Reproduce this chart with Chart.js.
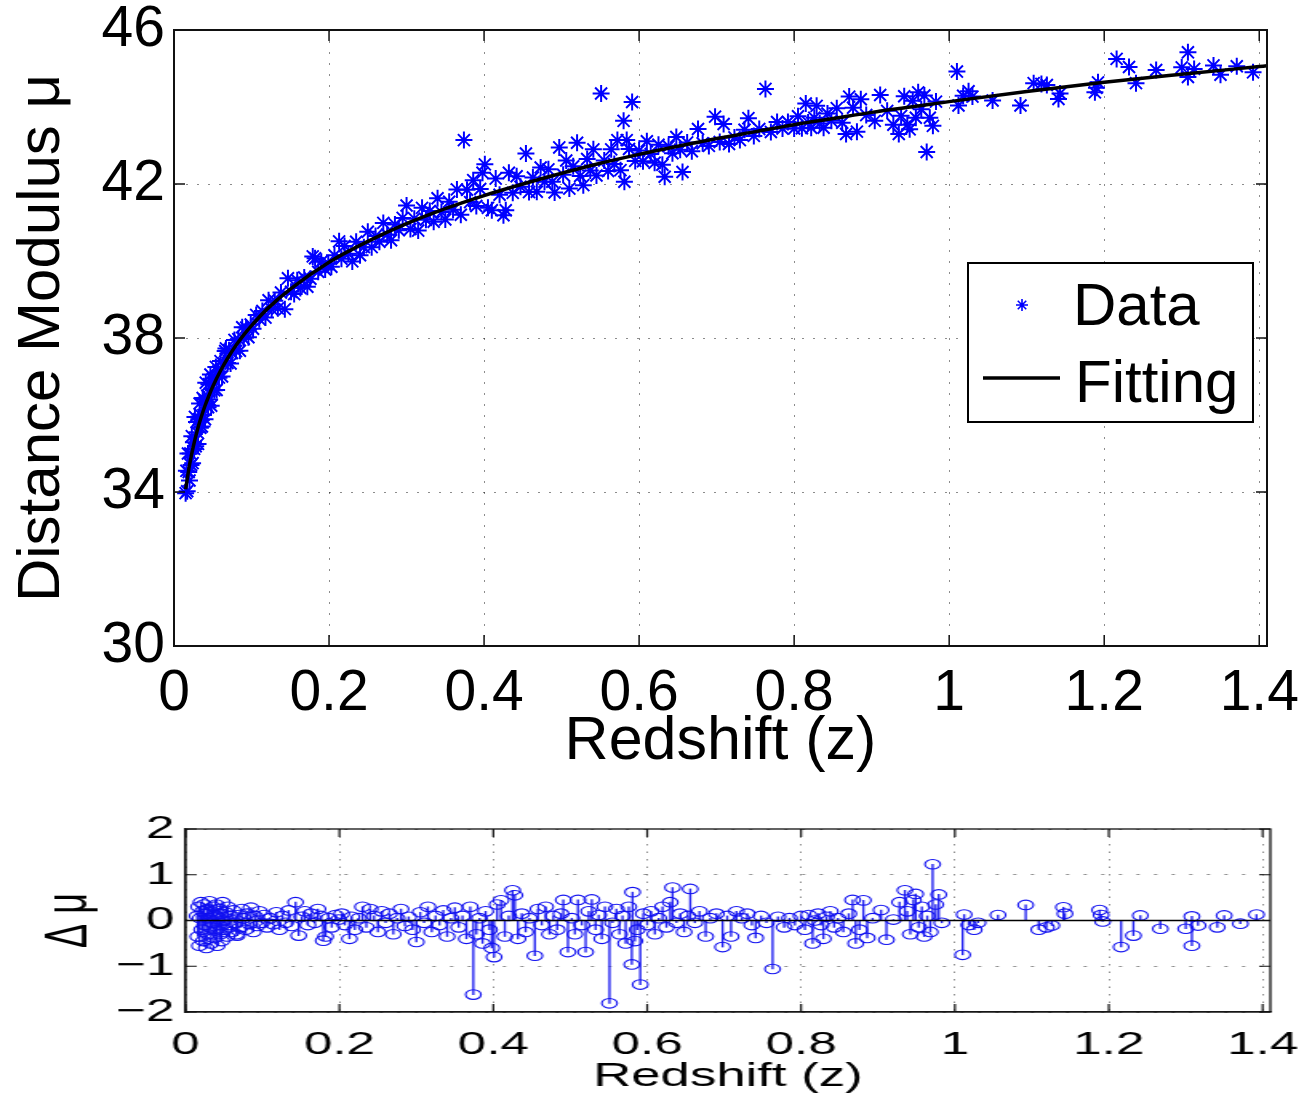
<!DOCTYPE html>
<html>
<head>
<meta charset="utf-8">
<script src="https://cdn.jsdelivr.net/npm/chart.js@4.4.1/dist/chart.umd.min.js"></script>
<style>
  html, body { margin: 0; padding: 0; background: #fff; }
  body { width: 1310px; height: 1101px; position: relative; overflow: hidden; }
  #top { position: absolute; left: 0; top: 0; width: 1310px; height: 790px; }
  /* the residual panel of the original is stretched sideways */
  #bottom { position: absolute; left: 0; top: 800px; width: 819px; height: 301px;
            transform: scaleX(1.6); transform-origin: 0 0; }
</style>
</head>
<body>
<div id="top"><canvas id="mu"></canvas></div>
<div id="bottom"><canvas id="res"></canvas></div>
<script>
// redshift of each supernova
let Z = [
  0.015,0.016,0.017,0.018,0.019,0.020,0.021,0.022,0.023,0.024,
  0.025,0.026,0.027,0.028,0.029,0.030,0.031,0.032,0.033,0.034,
  0.035,0.036,0.037,0.038,0.039,0.040,0.041,0.042,0.043,0.044,
  0.045,0.046,0.047,0.048,0.049,0.050,0.052,0.054,0.055,0.057,
  0.058,0.060,0.062,0.064,0.066,0.067,0.069,0.071,0.073,0.075,
  0.078,0.080,0.083,0.085,0.088,0.090,0.093,0.096,0.099,
  0.102,0.106,0.110,0.114,0.118,0.122,0.126,0.130,0.134,0.138,
  0.143,0.147,0.151,0.155,0.159,0.163,0.168,0.172,0.176,0.179,
  0.182,0.186,0.190,0.195,0.199,
  0.203,0.207,0.213,0.216,0.220,0.225,0.230,0.235,0.240,0.245,
  0.250,0.255,0.260,0.265,0.270,0.275,0.280,0.285,0.290,0.295,
  0.300,0.305,0.310,0.315,0.320,0.325,0.330,0.335,0.340,0.345,
  0.350,0.355,0.360,0.365,0.370,0.374,0.378,0.382,0.386,0.390,
  0.395,0.398,0.401,0.405,0.410,0.415,0.420,0.425,0.428,0.432,
  0.437,0.442,0.447,0.454,0.458,0.463,0.468,0.473,0.478,0.483,
  0.488,0.491,0.497,
  0.502,0.506,0.510,0.515,0.520,0.524,0.528,0.533,0.537,0.541,
  0.545,0.551,0.555,0.560,0.564,0.568,0.572,0.576,0.580,0.581,
  0.584,0.587,0.591,0.595,0.600,0.605,0.610,0.615,0.620,0.625,
  0.630,0.633,0.638,0.643,0.648,
  0.653,0.656,0.662,0.668,0.676,0.682,0.690,0.698,0.704,0.709,
  0.716,0.723,0.730,0.736,0.741,0.748,0.755,0.763,0.770,0.778,
  0.785,0.792,
  0.800,0.805,0.810,0.815,0.818,0.822,0.826,0.829,0.833,0.838,
  0.843,0.848,0.855,0.862,0.867,0.871,0.876,0.881,0.886,0.893,
  0.904,0.911,0.920,0.928,0.935,0.938,0.942,0.946,0.949,
  0.953,0.957,0.960,0.964,0.968,0.971,0.975,0.979,0.983,1.010,
  1.012,1.018,1.025,1.030,
  1.056,1.092,1.109,1.119,1.126,1.141,1.143,1.188,1.190,1.192,
  1.216,1.232,1.241,1.267,1.300,1.308,1.308,1.316,1.341,1.350,
  1.371,1.392
];

// distance modulus (top panel)
let MU = [
  33.97,34.55,34.02,35.00,34.52,34.30,35.00,34.70,35.45,34.75,
  35.29,35.12,35.95,35.19,35.82,35.55,35.25,35.89,36.30,35.67,
  35.99,35.70,36.44,36.00,36.40,35.89,36.84,36.26,36.50,36.20,
  36.80,36.40,37.05,36.24,36.69,36.94,36.64,37.25,36.65,37.13,
  36.97,37.40,37.00,37.34,37.66,37.73,37.35,37.68,37.34,37.61,
  37.95,37.66,37.97,37.67,38.28,37.98,38.27,38.02,38.35,
  38.24,38.60,38.49,38.70,38.53,38.98,38.75,38.97,38.77,39.18,
  38.75,39.55,39.20,39.14,39.50,39.30,39.57,39.33,39.54,40.12,
  40.07,39.72,39.98,39.78,39.94,
  39.85,40.15,40.51,40.06,40.39,40.19,39.99,40.50,40.15,40.36,
  40.76,40.36,40.65,40.50,40.99,40.69,40.54,40.95,40.80,41.12,
  41.44,40.83,41.10,40.79,41.38,41.07,41.30,41.02,41.63,41.27,
  41.08,41.54,41.33,41.86,41.20,43.14,41.85,41.53,42.10,41.43,
  41.87,42.29,42.51,41.38,41.32,42.14,41.72,41.19,41.32,42.29,
  41.77,42.20,41.93,42.79,41.79,42.17,41.80,42.43,42.06,42.38,
  42.06,41.78,42.95,
  42.24,42.61,41.88,42.46,43.07,42.21,41.97,42.65,42.35,42.90,
  42.22,44.35,42.61,42.34,42.90,42.52,43.14,42.36,43.64,42.06,
  43.14,42.91,44.13,42.60,42.87,42.59,43.11,42.78,42.55,43.02,
  42.50,42.19,42.98,42.80,43.22,
  42.89,42.31,43.08,42.85,43.43,43.06,42.99,43.75,43.09,43.56,
  43.04,43.21,43.14,43.41,43.71,43.25,43.43,44.47,43.35,43.61,
  43.44,43.61,
  43.44,43.76,43.45,44.09,43.60,43.46,43.72,44.03,43.57,43.46,
  43.83,43.64,43.97,43.59,43.30,44.27,43.98,43.36,44.20,43.79,
  43.64,44.31,43.90,43.54,43.30,43.77,44.28,43.54,43.42,
  44.16,43.72,44.38,43.94,44.30,42.83,43.72,43.51,44.14,44.92,
  44.04,44.29,44.41,44.27,
  44.17,44.04,44.62,44.60,44.57,44.21,44.35,44.38,44.50,44.64,
  45.25,45.04,44.62,44.96,45.03,44.78,45.42,44.99,45.08,44.84,
  45.06,44.90
];

// residuals, fit minus data (bottom panel)
let DMU = [
  0.10,-0.35,0.30,-0.55,0.05,0.40,-0.20,0.20,-0.45,0.35,
  -0.10,0.15,-0.60,0.25,-0.30,0.05,0.42,-0.15,-0.50,0.20,
  -0.05,0.30,-0.38,0.12,-0.22,0.35,-0.55,0.08,-0.10,0.25,
  -0.30,0.15,-0.45,0.40,0.00,-0.20,0.18,-0.35,0.30,-0.10,
  0.10,-0.25,0.22,-0.05,-0.30,-0.33,0.12,-0.15,0.25,0.05,
  -0.20,0.15,-0.08,0.28,-0.25,0.10,-0.12,0.20,-0.05,
  0.12,-0.15,0.05,-0.08,0.18,-0.20,0.10,-0.05,0.22,-0.12,
  0.40,-0.33,0.08,0.20,-0.10,0.15,-0.05,0.25,0.10,-0.44,
  -0.35,0.05,-0.15,0.12,0.02,
  0.15,-0.10,-0.40,0.08,-0.20,0.05,0.30,-0.15,0.25,0.10,
  -0.25,0.20,-0.05,0.15,-0.30,0.05,0.25,-0.12,0.08,-0.20,
  -0.47,0.18,-0.05,0.30,-0.25,0.10,-0.10,0.22,-0.35,0.05,
  0.28,-0.15,0.10,-0.40,0.30,-1.62,-0.30,0.05,-0.50,0.20,
  -0.20,-0.60,-0.80,0.35,0.44,-0.35,0.10,0.66,0.55,-0.40,
  0.15,-0.25,0.05,-0.77,0.25,-0.10,0.30,-0.30,0.10,-0.20,
  0.15,0.45,-0.69,
  0.05,-0.30,0.45,-0.10,-0.69,0.20,0.46,-0.20,0.12,-0.40,
  0.30,-1.81,-0.05,0.25,-0.30,0.10,-0.50,0.30,-0.96,0.62,
  -0.45,-0.20,-1.40,0.15,-0.10,0.20,-0.30,0.05,0.30,-0.15,
  0.40,0.72,-0.05,0.15,-0.25,
  0.10,0.69,-0.05,0.20,-0.35,0.05,0.15,-0.58,0.10,-0.35,
  0.20,0.05,0.15,-0.10,-0.38,0.10,-0.05,-1.06,0.08,-0.15,
  0.05,-0.10,
  0.10,-0.20,0.12,-0.50,0.00,0.15,-0.10,-0.40,0.08,0.20,
  -0.15,0.05,-0.25,0.15,0.45,-0.50,-0.20,0.44,-0.38,0.05,
  0.23,-0.42,0.02,0.40,0.66,0.20,-0.30,0.45,0.58,
  -0.15,0.30,-0.35,0.10,-0.25,1.23,0.35,0.57,-0.05,-0.75,
  0.13,-0.10,-0.20,-0.05,
  0.12,0.34,-0.20,-0.15,-0.11,0.29,0.15,0.23,0.12,-0.02,
  -0.58,-0.33,0.11,-0.18,-0.18,0.09,-0.55,-0.11,-0.15,0.11,
  -0.07,0.13
];

// fitted curve
let FIT_Z  = [0.015,0.02,0.025,0.03,0.035,0.04,0.045,0.05,0.06,0.07,0.08,0.09,0.1,0.12,0.15,
              0.2,0.25,0.3,0.35,0.4,0.45,0.5,0.55,0.6,0.65,0.7,0.75,0.8,0.85,0.9,0.95,
              1.0,1.1,1.2,1.3,1.4,1.41];
let FIT_MU = [34.07,34.70,35.19,35.60,35.94,36.24,36.50,36.74,37.15,37.50,37.81,38.08,38.32,38.75,39.27,
              39.97,40.51,40.97,41.36,41.70,42.00,42.28,42.54,42.77,42.98,43.18,43.36,43.54,43.70,43.86,44.00,
              44.14,44.40,44.64,44.85,45.05,45.07];

let X_TICKS = [0, 0.2, 0.4, 0.6, 0.8, 1, 1.2, 1.4];
let MU_TICKS = [30, 34, 38, 42, 46];
let DMU_TICKS = [-2, -1, 0, 1, 2];
let X_MIN = 0, X_MAX = 1.41;

const BLUE = '#0000ff';
const GRID = 'rgba(0,0,0,0.45)';
Chart.defaults.font.family = '"Liberation Sans", Arial, Helvetica, sans-serif';
Chart.defaults.color = '#000';

// box round the axes with matlab style inward ticks
const frame = {
  id: 'frame',
  afterDatasetsDraw(chart, args, o) {
    const {ctx, chartArea: a, scales: {x, y}} = chart;
    ctx.save();
    ctx.strokeStyle = '#111';
    ctx.lineWidth = o.width;
    ctx.beginPath();
    x.ticks.forEach(t => {
      const p = x.getPixelForValue(t.value);
      ctx.moveTo(p, a.bottom); ctx.lineTo(p, a.bottom - o.tx);
      ctx.moveTo(p, a.top); ctx.lineTo(p, a.top + o.tx);
    });
    y.ticks.forEach(t => {
      const p = y.getPixelForValue(t.value);
      ctx.moveTo(a.left, p); ctx.lineTo(a.left + o.ty, p);
      ctx.moveTo(a.right, p); ctx.lineTo(a.right - o.ty, p);
    });
    ctx.stroke();
    ctx.lineWidth = o.frame;
    ctx.strokeRect(a.left, a.top, a.right - a.left, a.bottom - a.top);
    ctx.restore();
  }
};

// legend box inside the axes
const muLegend = {
  id: 'muLegend',
  afterDraw(chart, args, o) {
    const ctx = chart.ctx;
    const fit = chart.data.datasets[0], pts = chart.data.datasets[1];
    ctx.save();
    ctx.fillStyle = '#fff';
    ctx.fillRect(o.left, o.top, o.w, o.h);
    ctx.strokeStyle = '#000';
    ctx.lineWidth = 2;
    ctx.strokeRect(o.left, o.top, o.w, o.h);
    // asterisk sample
    ctx.strokeStyle = pts.borderColor;
    ctx.lineWidth = 1.6;
    ctx.beginPath();
    for (let k = 0; k < 4; k++) {
      const ang = k * Math.PI / 4;
      ctx.moveTo(o.starX - 6 * Math.cos(ang), o.starY - 6 * Math.sin(ang));
      ctx.lineTo(o.starX + 6 * Math.cos(ang), o.starY + 6 * Math.sin(ang));
    }
    ctx.stroke();
    // line sample
    ctx.strokeStyle = fit.borderColor;
    ctx.lineWidth = 3.5;
    ctx.beginPath();
    ctx.moveTo(o.lineX0, o.lineY); ctx.lineTo(o.lineX1, o.lineY);
    ctx.stroke();
    ctx.fillStyle = '#000';
    ctx.font = '60px "Liberation Sans", Arial, sans-serif';
    ctx.textBaseline = 'alphabetic';
    ctx.fillText(pts.label, o.textX, o.row1);
    ctx.fillText(fit.label, o.textX + 2, o.row2);
    ctx.restore();
  }
};

new Chart(document.getElementById('mu'), {
  type: 'scatter',
  data: {
    datasets: [{
      label: 'Fitting',
      data: FIT_Z.map((z, i) => ({x: z, y: FIT_MU[i]})),
      showLine: true,
      borderColor: '#000',
      borderWidth: 3.5,
      pointRadius: 0,
      cubicInterpolationMode: 'monotone',
      order: 0
    }, {
      label: 'Data',
      data: Z.map((z, i) => ({x: z, y: MU[i]})),
      pointStyle: 'star',
      pointRadius: 8.5,
      borderColor: BLUE,
      backgroundColor: BLUE,
      borderWidth: 2,
      pointBorderWidth: 2,
      order: 1
    }]
  },
  options: {
    responsive: true,
    maintainAspectRatio: false,
    animation: false,
    events: [],
    layout: {padding: {top: 30, right: 43, left: 0, bottom: 0}},
    plugins: {
      legend: {display: false},
      tooltip: {enabled: false},
      frame: {width: 1.5, frame: 2, tx: 11, ty: 11},
      muLegend: {left: 968, top: 263, w: 285, h: 159, starX: 1022, starY: 305,
                 lineX0: 983, lineX1: 1060, lineY: 378, textX: 1073, row1: 325, row2: 402}
    },
    scales: {
      x: {
        type: 'linear', min: X_MIN, max: X_MAX,
        afterBuildTicks: s => { s.ticks = X_TICKS.map(v => ({value: v})); },
        afterFit: s => { s.height = 144; },
        grid: {color: GRID, lineWidth: 1, drawTicks: true, tickLength: 20, tickColor: 'rgba(0,0,0,0)'},
        border: {display: true, color: '#111', width: 2, dash: [2, 9]},
        ticks: {padding: 0, maxRotation: 0, autoSkip: false, font: {size: 57, lineHeight: 1},
                callback: v => String(v)},
        title: {display: true, text: 'Redshift (z)', font: {size: 61}, padding: {top: 0, bottom: 11}}
      },
      y: {
        type: 'linear', min: 30, max: 46,
        afterBuildTicks: s => { s.ticks = MU_TICKS.map(v => ({value: v})); },
        afterFit: s => { s.width = 174; },
        grid: {color: GRID, lineWidth: 1, drawTicks: true, tickLength: 9, tickColor: 'rgba(0,0,0,0)'},
        border: {display: true, color: '#111', width: 2, dash: [2, 9]},
        ticks: {padding: 0, font: {size: 57, lineHeight: 1}},
        title: {display: true, text: 'Distance Modulus μ', font: {size: 60}, padding: {top: 6, bottom: 0}}
      }
    }
  },
  plugins: [frame, muLegend]
});

const resPts = Z.map((z, i) => ({x: z, y: DMU[i]}));

new Chart(document.getElementById('res'), {
  type: 'scatter',
  data: {
    datasets: [{
      label: 'zero',
      data: [{x: X_MIN, y: 0}, {x: X_MAX, y: 0}],
      showLine: true,
      borderColor: '#000',
      borderWidth: 1.4,
      pointRadius: 0,
      order: 0
    }, {
      label: 'residual',
      data: resPts,
      pointStyle: 'circle',
      pointRadius: 4.8,
      borderColor: '#1010f0',
      pointBorderWidth: 1.1,
      borderWidth: 1.1,
      backgroundColor: 'rgba(0,0,0,0)',
      order: 1
    }, {
      type: 'bar',
      label: 'stem',
      data: resPts,
      backgroundColor: '#2020f0',
      barThickness: 0.7,
      order: 2
    }]
  },
  options: {
    responsive: true,
    maintainAspectRatio: false,
    animation: false,
    events: [],
    layout: {padding: {top: 29, right: 25, left: 0, bottom: 0}},
    plugins: {
      legend: {display: false},
      tooltip: {enabled: false},
      frame: {width: 1.2, frame: 1.3, tx: 8, ty: 7}
    },
    scales: {
      x: {
        type: 'linear', min: X_MIN, max: X_MAX, offset: false,
        afterBuildTicks: s => { s.ticks = X_TICKS.map(v => ({value: v})); },
        afterFit: s => { s.height = 89; },
        grid: {offset: false, color: GRID, lineWidth: 1, drawTicks: true, tickLength: 17, tickColor: 'rgba(0,0,0,0)'},
        border: {display: true, color: '#222', width: 1.3, dash: [1.5, 6]},
        ticks: {padding: 0, maxRotation: 0, autoSkip: false, font: {size: 32, lineHeight: 1},
                callback: v => String(v)},
        title: {display: true, text: 'Redshift (z)', font: {size: 33}, padding: {top: 0, bottom: 4}}
      },
      y: {
        type: 'linear', min: -2, max: 2,
        afterBuildTicks: s => { s.ticks = DMU_TICKS.map(v => ({value: v})); },
        afterFit: s => { s.width = 116; },
        grid: {color: GRID, lineWidth: 1, drawTicks: true, tickLength: 7, tickColor: 'rgba(0,0,0,0)'},
        border: {display: true, color: '#222', width: 1.3, dash: [2, 9]},
        ticks: {padding: 0, font: {size: 32, lineHeight: 1},
                callback: v => (v < 0 ? '\u2212' + Math.abs(v) : String(v))},
        title: {display: true, text: 'Δ μ', font: {size: 36}, padding: {top: 22, bottom: 0}}
      }
    }
  },
  plugins: [frame]
});
</script>
</body>
</html>
